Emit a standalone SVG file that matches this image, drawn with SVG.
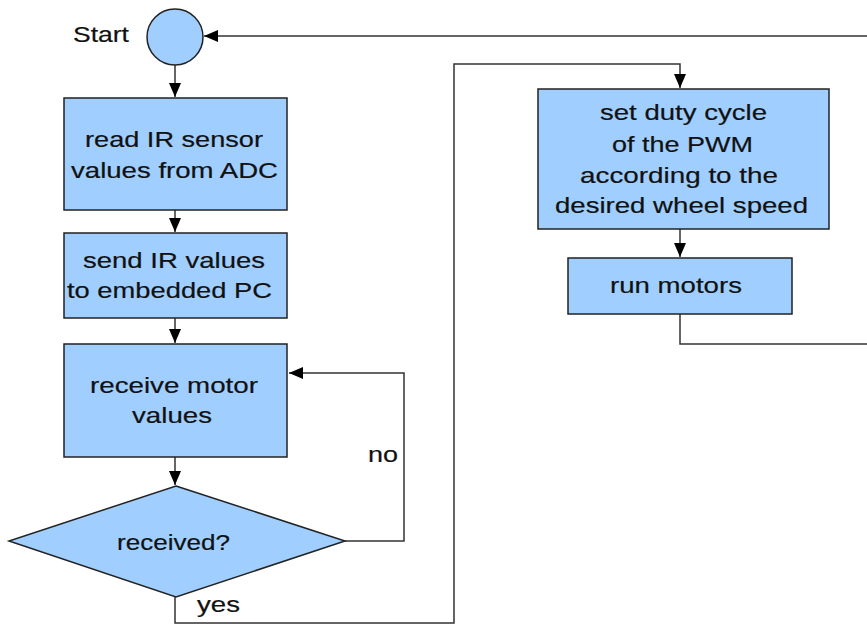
<svg xmlns="http://www.w3.org/2000/svg" width="867" height="624" viewBox="0 0 867 624">
<style>
.n{fill:#a0cfff;stroke:#222;stroke-width:1.5}
.t{font-family:"Liberation Sans",Arial,sans-serif;font-size:22px;fill:#111;stroke:#111;stroke-width:0.2}
.c{fill:none;stroke:#333;stroke-width:1.5}
</style>
<defs>
<marker id="ah" markerUnits="userSpaceOnUse" markerWidth="14" markerHeight="12" refX="14" refY="6" orient="auto">
<path d="M0,0 L14,6 L0,12 z" fill="#000"/>
</marker>
</defs>
<rect width="867" height="624" fill="#fff"/>
<g id="connectors">
<path class="c" d="M175,65 V97" marker-end="url(#ah)"/>
<path class="c" d="M175,210 V232" marker-end="url(#ah)"/>
<path class="c" d="M175,318 V343" marker-end="url(#ah)"/>
<path class="c" d="M175,457 V485" marker-end="url(#ah)"/>
<path class="c" d="M345,541 H404 V373 H289" marker-end="url(#ah)"/>
<path class="c" d="M175,597 V623 H454 V64 H680 V88" marker-end="url(#ah)"/>
<path class="c" d="M680,229 V257" marker-end="url(#ah)"/>
<path class="c" d="M680,314 V344 H885 V36 H204" marker-end="url(#ah)"/>
<text class="t" x="368" y="462" textLength="30" lengthAdjust="spacingAndGlyphs">no</text>
<text class="t" x="197" y="612" textLength="43" lengthAdjust="spacingAndGlyphs">yes</text>
</g>
<g id="start">
<circle class="n" cx="175" cy="37" r="28"/>
<text class="t" x="73" y="42" font-size="27" textLength="56" lengthAdjust="spacingAndGlyphs">Start</text>
</g>
<g id="read">
<rect class="n" x="64" y="98" width="223" height="112"/>
<text class="t" x="85" y="147" textLength="178" lengthAdjust="spacingAndGlyphs">read IR sensor</text>
<text class="t" x="71" y="178" textLength="207" lengthAdjust="spacingAndGlyphs">values from ADC</text>
</g>
<g id="send">
<rect class="n" x="64" y="233" width="223" height="85"/>
<text class="t" x="83" y="268" textLength="182" lengthAdjust="spacingAndGlyphs">send IR values</text>
<text class="t" x="67" y="298" textLength="205" lengthAdjust="spacingAndGlyphs">to embedded PC</text>
</g>
<g id="receive">
<rect class="n" x="64" y="344" width="223" height="113"/>
<text class="t" x="90" y="393" textLength="168" lengthAdjust="spacingAndGlyphs">receive motor</text>
<text class="t" x="132" y="423" textLength="80" lengthAdjust="spacingAndGlyphs">values</text>
</g>
<g id="received">
<polygon class="n" points="176,486 345,541 176,597 9,541" stroke-width="1"/>
<text class="t" x="117" y="550" textLength="113" lengthAdjust="spacingAndGlyphs">received?</text>
</g>
<g id="duty">
<rect class="n" x="538" y="89" width="291" height="140"/>
<text class="t" x="600" y="120" textLength="167" lengthAdjust="spacingAndGlyphs">set duty cycle</text>
<text class="t" x="612" y="152" textLength="141" lengthAdjust="spacingAndGlyphs">of the PWM</text>
<text class="t" x="580" y="183" textLength="198" lengthAdjust="spacingAndGlyphs">according to the</text>
<text class="t" x="555" y="213" textLength="253" lengthAdjust="spacingAndGlyphs">desired wheel speed</text>
</g>
<g id="run">
<rect class="n" x="568" y="258" width="224" height="56"/>
<text class="t" x="610" y="293" textLength="132" lengthAdjust="spacingAndGlyphs">run motors</text>
</g>
</svg>
